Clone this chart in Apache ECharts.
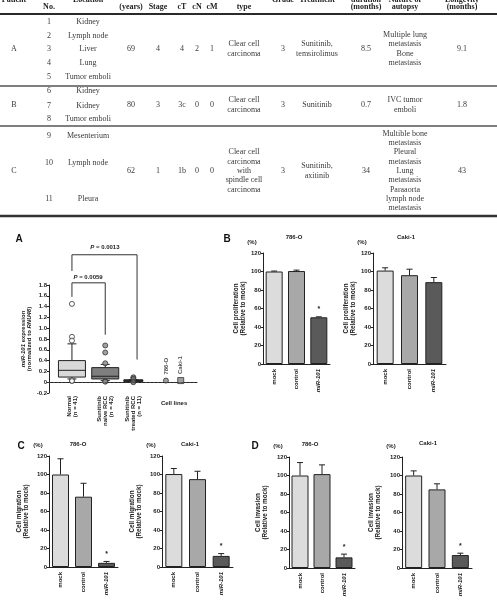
<!DOCTYPE html>
<html>
<head>
<meta charset="utf-8">
<script src="https://cdn.jsdelivr.net/npm/echarts@6.0.0/dist/echarts.min.js"></script>
<style>
html,body{margin:0;padding:0;background:#fff;}
#chart{width:497px;height:600px;}
</style>
</head>
<body>
<div id="chart"></div>
<script>
// ---------------- Table data ----------------
const headerHidden = ['', '', '', 'Age', '', '', '', '', 'Histological', '', '', 'Treatment', '', ''];
const headerTop = ['Patient', '', 'Location', '', '', '', '', '', '', 'Grade', 'Treatment', 'duration', 'Nature of', 'Longevity'];
const headerBottom = ['', 'No.', '', '(years)', 'Stage', 'cT', 'cN', 'cM', 'type', '', '', '(months)', 'autopsy', '(months)'];
const patients = ['A', 'B', 'C'];
const sampleNos = [['1', '2', '3', '4', '5'], ['6', '7', '8'], ['9', '10', '11']];
const locations = [['Kidney', 'Lymph node', 'Liver', 'Lung', 'Tumor emboli'], ['Kidney', 'Kidney', 'Tumor emboli'], ['Mesenterium', 'Lymph node', 'Pleura']];
const ages = ['69', '80', '62'];
const stages = ['4', '3', '1'];
const cTs = ['4', '3c', '1b'];
const cNs = ['2', '0', '0'];
const cMs = ['1', '0', '0'];
const histology = ['Clear cell\ncarcinoma', 'Clear cell\ncarcinoma', 'Clear cell\ncarcinoma\nwith\nspindle cell\ncarcinoma'];
const grades = ['3', '3', '3'];
const treatments = ['Sunitinib,\ntemsirolimus', 'Sunitinib', 'Sunitinib,\naxitinib'];
const durations = ['8.5', '0.7', '34'];
const autopsyFindings = ['Multiple lung\nmetastasis\nBone\nmetastasis', 'IVC tumor\nemboli', 'Multible bone\nmetastasis\nPleural\nmetastasis\nLung\nmetastasis\nParaaorta\nlymph node\nmetastasis'];
const longevity = ['9.1', '1.8', '43'];

// ---------------- Panel A data ----------------
const boxGroups = ['Normal\n(n = 41)', 'Sunitinib\nnaive RCC\n(n = 42)', 'Sunitinib\ntreated RCC\n(n = 11)'];
// [lower whisker, Q1, median, Q3, upper whisker]
const boxStats = [
  [0.06, 0.095, 0.22, 0.40, 0.71],
  [0.03, 0.06, 0.11, 0.27, 0.33],
  [0.005, 0.012, 0.03, 0.045, 0.05]
];
const boxOutliers = [
  [1.45, 0.84, 0.77, 0.04, 0.02],
  [0.68, 0.55, 0.35, 0.02, 0.01],
  [0.09, 0.06, 0.0]
];
const cellLineNames = ['786-O', 'Caki-1'];
const cellLineValues = [0.03, 0.03];
const cellLinesLabel = 'Cell lines';
const pValueLabels = ['P = 0.0013', 'P = 0.0059'];
const yTicksA = [-0.2, 1.8, 0.2]; // min, max, step

// ---------------- Panels B-D data ----------------
const barCats = ['mock', 'control', 'miR-101'];
const prolif786 = [100, 100.5, 50.5];
const prolif786Err = [0.5, 1, 0.5];
const prolif786Sig = [false, false, true];
const prolifCaki = [101, 96, 88.5];
const prolifCakiErr = [3, 6.5, 5];
const prolifCakiSig = [false, false, false];
const migr786 = [100, 76, 4.5];
const migr786Err = [17, 14.5, 1.5];
const migr786Sig = [false, false, true];
const migrCaki = [100.5, 95, 12];
const migrCakiErr = [6, 8.5, 2.5];
const migrCakiSig = [false, false, true];
const inv786 = [100, 101.5, 11.5];
const inv786Err = [14, 10, 3.5];
const inv786Sig = [false, false, true];
const invCaki = [100, 85, 14];
const invCakiErr = [5, 6, 2];
const invCakiSig = [false, false, true];
const yTicksBar = [0, 120, 20];

// ---------------- Styling / layout ----------------
const SANS = '"Liberation Sans", Arial, sans-serif';
const SERIF = '"Liberation Serif", "Times New Roman", serif';
const INK = '#222';
const TXT = '#3a3a3a';

const colX = [14, 49, 88, 131, 158, 182, 197, 212, 244, 283, 317, 366, 405, 462];
const groupY = [49, 105, 171];
const sampleY = [[21.5, 35.5, 49.3, 63, 77], [91, 106, 119], [136, 163, 199]];
const ruleLines = [[14, 2, '#2a2a2a'], [86, 1.5, '#555'], [126, 1.5, '#555'], [216, 2.5, '#333']];

const graphics = [];
function txt(t, x, y, font, fill, lh) {
  graphics.push({
    type: 'text', x: x, y: y, silent: true,
    style: { text: t, font: font, fill: fill || TXT, textAlign: 'center', textVerticalAlign: 'middle',
      align: 'center', verticalAlign: 'middle', lineHeight: lh || 9.3 }
  });
}
const fHead = 'bold 8px ' + SERIF;
const fBody = '8px ' + SERIF;
headerHidden.forEach((h, i) => { if (h) txt(h, colX[i], -12, fHead, '#222'); });
headerTop.forEach((h, i) => { if (h) txt(h, colX[i], -0.5, fHead, '#222'); });
headerBottom.forEach((h, i) => { if (h) txt(h, colX[i], 6.5, fHead, '#222'); });
ruleLines.forEach(r => {
  graphics.push({ type: 'line', silent: true, shape: { x1: 0, y1: r[0], x2: 497, y2: r[0] }, style: { stroke: r[2], lineWidth: r[1] } });
});
patients.forEach((p, g) => {
  const gy = groupY[g];
  txt(p, colX[0], gy, fBody);
  sampleNos[g].forEach((n, i) => txt(n, colX[1], sampleY[g][i], fBody));
  locations[g].forEach((l, i) => txt(l, colX[2], sampleY[g][i], fBody));
  [ages, stages, cTs, cNs, cMs, histology, grades, treatments, durations, autopsyFindings, longevity].forEach((arr, k) => {
    txt(arr[g], colX[3 + k], gy, fBody);
  });
});

// Panel letters
const fLetter = 'bold 10px ' + SANS;
[['A', 19, 239], ['B', 227, 239], ['C', 21, 446], ['D', 255, 446]].forEach(a => txt(a[0], a[1], a[2], fLetter, '#111'));

// ---------------- Option ----------------
const grids = [], xAxes = [], yAxes = [], series = [];
const axisLineStyle = { show: true, lineStyle: { color: INK, width: 1 } };
const tickFont = { fontSize: 6, fontWeight: 'bold', fontFamily: SANS, color: INK };

// Panel A
const boxPos = [1.55, 3.8, 5.7];
const boxWidthPx = [27, 27, 19];
const cellPos = [7.9, 8.9];
const cellLabelPos = 8.45;
const boxFill = ['#d9d9d9', '#7f7f7f', '#5e5e5e'];
const outlierFill = ['#ffffff', '#8a8a8a', '#6a6a6a'];
grids.push({ left: 49, top: 285, width: 148, height: 108 });
xAxes.push({
  gridIndex: 0, type: 'value', min: 0, max: 10, position: 'bottom',
  axisLine: axisLineStyle, axisTick: { show: false }, splitLine: { show: false },
  axisLabel: Object.assign({}, tickFont, {
    customValues: boxPos, rotate: 90, margin: 3, lineHeight: 6,
    formatter: function (v) { const i = boxPos.indexOf(v); return i >= 0 ? boxGroups[i] : ''; }
  })
});
xAxes.push({
  gridIndex: 0, type: 'value', min: 0, max: 10, position: 'bottom',
  axisLine: { show: false }, axisTick: { show: false }, splitLine: { show: false },
  axisLabel: Object.assign({}, tickFont, {
    customValues: [cellLabelPos], margin: 7,
    formatter: function () { return cellLinesLabel; }
  })
});
yAxes.push({
  gridIndex: 0, type: 'value', min: yTicksA[0], max: yTicksA[1], interval: yTicksA[2],
  axisLine: axisLineStyle, axisTick: { show: true, length: 2, lineStyle: { color: INK } },
  splitLine: { show: false },
  axisLabel: Object.assign({}, tickFont, {
    margin: 2,
    formatter: function (v) { const r = Math.round(v * 10) / 10; return r === 0 ? '0' : r.toFixed(1); }
  }),
  name: '{i|miR-101} expression\n(normalized to {i|RNU48})', nameLocation: 'middle', nameGap: 16, nameRotate: 90,
  nameTextStyle: { fontSize: 6, fontWeight: 'bold', fontFamily: SANS, color: INK, lineHeight: 6.5,
    rich: { i: { fontStyle: 'italic', fontWeight: 'bold', fontSize: 6, fontFamily: SANS, color: INK } } }
});
series.push({
  type: 'custom', xAxisIndex: 0, yAxisIndex: 0, z: 3,
  data: boxStats.map((s, i) => [boxPos[i]].concat(s)),
  renderItem: function (params, api) {
    const i = params.dataIndex;
    const x = api.value(0);
    const p = [1, 2, 3, 4, 5].map(k => api.coord([x, api.value(k)]));
    const cx = p[0][0], w = boxWidthPx[i], cap = 9;
    const ls = { stroke: INK, lineWidth: 1 };
    return {
      type: 'group', children: [
        { type: 'line', shape: { x1: cx, y1: p[3][1], x2: cx, y2: p[4][1] }, style: ls },
        { type: 'line', shape: { x1: cx - cap / 2, y1: p[4][1], x2: cx + cap / 2, y2: p[4][1] }, style: ls },
        { type: 'line', shape: { x1: cx, y1: p[1][1], x2: cx, y2: p[0][1] }, style: ls },
        { type: 'line', shape: { x1: cx - cap / 2, y1: p[0][1], x2: cx + cap / 2, y2: p[0][1] }, style: ls },
        { type: 'rect', shape: { x: cx - w / 2, y: p[3][1], width: w, height: Math.max(p[1][1] - p[3][1], 1) }, style: { fill: boxFill[i], stroke: INK, lineWidth: 1 } },
        { type: 'line', shape: { x1: cx - w / 2, y1: p[2][1], x2: cx + w / 2, y2: p[2][1] }, style: ls }
      ]
    };
  }
});
boxOutliers.forEach((arr, i) => {
  series.push({
    type: 'scatter', xAxisIndex: 0, yAxisIndex: 0, z: 4, symbol: 'circle', symbolSize: 5,
    itemStyle: { color: outlierFill[i], borderColor: '#333', borderWidth: 1 },
    data: arr.map(v => [boxPos[i], v]),
    markLine: i === 0 ? {
      silent: true, symbol: ['none', 'none'], label: { show: false },
      lineStyle: { type: [2, 2], color: '#444', width: 0.8 },
      data: [{ yAxis: 0 }]
    } : undefined
  });
});
series.push({
  type: 'scatter', xAxisIndex: 0, yAxisIndex: 0, z: 4,
  data: cellLineNames.map((n, i) => ({
    name: n, value: [cellPos[i], cellLineValues[i]],
    symbol: i === 0 ? 'circle' : 'rect', symbolSize: i === 0 ? 5 : 6
  })),
  itemStyle: { color: '#8a8a8a', borderColor: '#333', borderWidth: 1 },
  label: { show: true, formatter: '{b}', position: 'top', rotate: 90, align: 'left', verticalAlign: 'middle', distance: 3,
    fontSize: 6, fontWeight: 'bold', fontFamily: SANS, color: INK }
});
const bracketLayout = [
  { xl: 1.55, xr: 5.95, top: 2.36, yl: 2.06, yr: 0.42, tx: 3.78, ty: 2.49 },
  { xl: 1.55, xr: 3.8, top: 1.84, yl: 1.58, yr: 0.88, tx: 2.64, ty: 1.95 }
];
series.push({
  type: 'custom', xAxisIndex: 0, yAxisIndex: 0, clip: false, z: 5,
  data: pValueLabels.map((t, i) => [i]),
  renderItem: function (params, api) {
    const b = bracketLayout[params.dataIndex];
    const a = api.coord([b.xl, b.yl]), t1 = api.coord([b.xl, b.top]), t2 = api.coord([b.xr, b.top]), c = api.coord([b.xr, b.yr]);
    const tp = api.coord([b.tx, b.ty]);
    const txtStr = pValueLabels[params.dataIndex].replace(/^P/, '{i|P}');
    return {
      type: 'group', children: [
        { type: 'polyline', shape: { points: [a, t1, t2, c] }, style: { stroke: '#333', lineWidth: 1, fill: null } },
        { type: 'text', x: tp[0], y: tp[1], style: { text: txtStr, font: 'bold 6px ' + SANS, fill: INK,
          align: 'center', verticalAlign: 'middle', textAlign: 'center', textVerticalAlign: 'middle',
          rich: { i: { fontStyle: 'italic', fontWeight: 'bold', fontSize: 6, fontFamily: SANS, fill: INK } } } }
      ]
    };
  }
});

// Bar panels
const barFill = ['#dcdcdc', '#a8a8a8', '#5a5a5a'];
const barPanels = [
  { g: { left: 263, top: 253, width: 67, height: 111 }, vals: prolif786, errs: prolif786Err, sig: prolif786Sig, title: '786-O', tp: [294, 237], name: 'Cell proliferation', gap: 16 },
  { g: { left: 373, top: 253, width: 73, height: 111 }, vals: prolifCaki, errs: prolifCakiErr, sig: prolifCakiSig, title: 'Caki-1', tp: [406, 237], name: 'Cell proliferation', gap: 15 },
  { g: { left: 49, top: 456, width: 69, height: 111 }, vals: migr786, errs: migr786Err, sig: migr786Sig, title: '786-O', tp: [78, 444], name: 'Cell migration', gap: 19 },
  { g: { left: 162, top: 456, width: 71, height: 111 }, vals: migrCaki, errs: migrCakiErr, sig: migrCakiSig, title: 'Caki-1', tp: [190, 444], name: 'Cell migration', gap: 19 },
  { g: { left: 289, top: 457, width: 66, height: 111 }, vals: inv786, errs: inv786Err, sig: inv786Sig, title: '786-O', tp: [310, 444], name: 'Cell invasion', gap: 20 },
  { g: { left: 402, top: 457, width: 70, height: 111 }, vals: invCaki, errs: invCakiErr, sig: invCakiSig, title: 'Caki-1', tp: [428, 443], name: 'Cell invasion', gap: 20 }
];
barPanels.forEach((bp, k) => {
  const gi = grids.length;
  grids.push(bp.g);
  const xi = xAxes.length, yi = yAxes.length;
  xAxes.push({
    gridIndex: gi, type: 'category', data: barCats,
    axisLine: axisLineStyle, axisTick: { show: false },
    axisLabel: Object.assign({}, tickFont, {
      rotate: 90, margin: 5, interval: 0,
      formatter: function (v) { return v === 'miR-101' ? '{i|miR-101}' : v; },
      rich: { i: { fontStyle: 'italic', fontWeight: 'bold', fontSize: 6, fontFamily: SANS, color: INK } }
    })
  });
  yAxes.push({
    gridIndex: gi, type: 'value', min: yTicksBar[0], max: yTicksBar[1], interval: yTicksBar[2],
    axisLine: axisLineStyle, axisTick: { show: true, length: 2, lineStyle: { color: INK } },
    splitLine: { show: false },
    axisLabel: Object.assign({}, tickFont, { margin: 2 }),
    name: bp.name + '\n(Relative to mock)', nameLocation: 'middle', nameGap: bp.gap, nameRotate: 90,
    nameTextStyle: { fontSize: 6.3, fontWeight: 'bold', fontFamily: SANS, color: INK, lineHeight: 7 }
  });
  series.push({
    type: 'bar', xAxisIndex: xi, yAxisIndex: yi, barWidth: 17, z: 2,
    data: bp.vals.map((v, i) => ({ value: v, itemStyle: { color: barFill[i] } })),
    itemStyle: { borderColor: INK, borderWidth: 1 }
  });
  series.push({
    type: 'custom', xAxisIndex: xi, yAxisIndex: yi, z: 3, clip: false,
    data: bp.vals.map((v, i) => [i, v, bp.errs[i], bp.sig[i] ? 1 : 0]),
    renderItem: function (params, api) {
      const i = api.value(0), v = api.value(1), e = api.value(2), s = api.value(3);
      const p0 = api.coord([i, v]), p1 = api.coord([i, v + e]);
      const ls = { stroke: INK, lineWidth: 1 };
      const ch = [
        { type: 'line', shape: { x1: p0[0], y1: p0[1], x2: p1[0], y2: p1[1] }, style: ls },
        { type: 'line', shape: { x1: p1[0] - 3, y1: p1[1], x2: p1[0] + 3, y2: p1[1] }, style: ls }
      ];
      if (s) ch.push({ type: 'text', x: p1[0], y: p1[1] - 4, style: { text: '*', font: 'bold 7px ' + SANS, fill: INK,
        align: 'center', verticalAlign: 'bottom', textAlign: 'center', textVerticalAlign: 'bottom' } });
      return { type: 'group', children: ch };
    }
  });
  txt(bp.title, bp.tp[0], bp.tp[1], 'bold 6px ' + SANS, INK);
  txt('(%)', bp.g.left - 11, bp.g.top - 11, 'bold 6px ' + SANS, INK);
});

const chart = echarts.init(document.getElementById('chart'), null, { renderer: 'canvas', width: 497, height: 600 });
chart.setOption({
  backgroundColor: '#ffffff',
  animation: false,
  grid: grids,
  xAxis: xAxes,
  yAxis: yAxes,
  series: series,
  graphic: graphics
});
</script>
</body>
</html>
